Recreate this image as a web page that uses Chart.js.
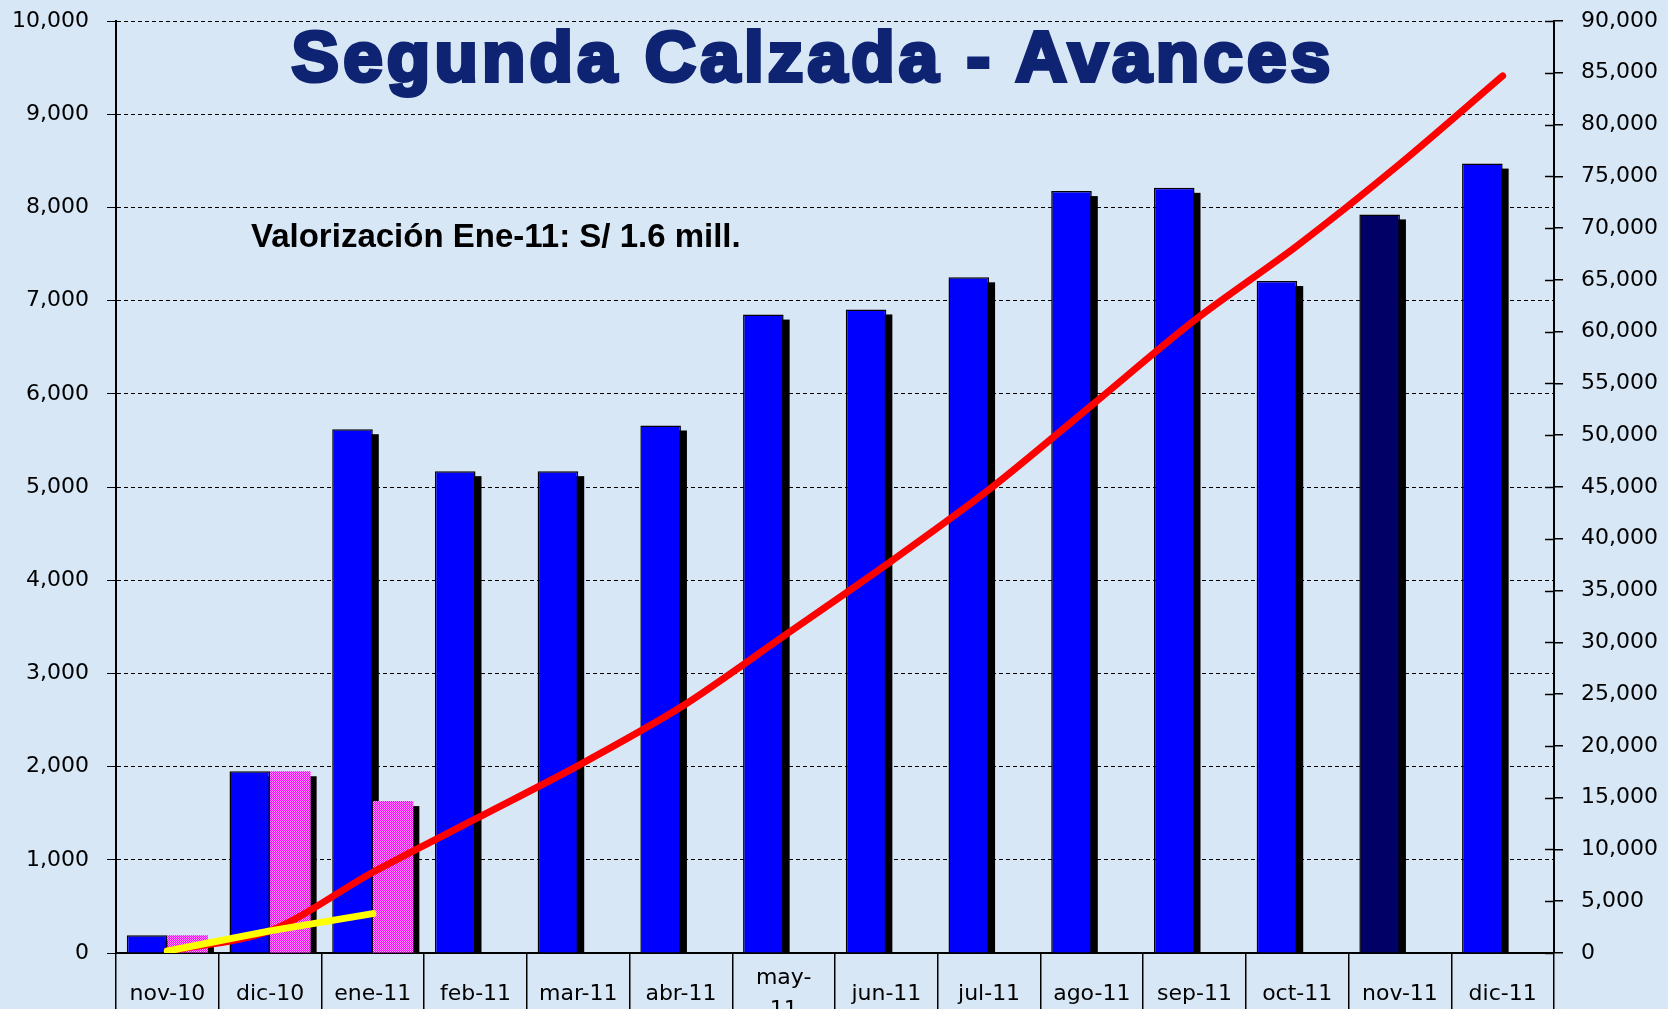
<!DOCTYPE html>
<html>
<head>
<meta charset="utf-8">
<script src="https://cdn.jsdelivr.net/npm/chart.js@4.4.0/dist/chart.umd.min.js"></script>
<style>
  html, body { margin: 0; padding: 0; background: #d8e7f6; overflow: hidden; }
  #wrap { position: relative; width: 1668px; height: 1026px; }
  #titulo {
    position: absolute; left: 0; width: 1626px; top: 21px; text-align: center;
    font-family: "Liberation Sans", Arial, sans-serif; font-weight: 700; font-size: 71px;
    color: #0e2473; -webkit-text-stroke: 4px #0e2473; letter-spacing: 4.2px; line-height: 1;
  }
  #nota {
    position: absolute; left: 251px; top: 219px;
    font-family: "Liberation Sans", Arial, sans-serif; font-weight: 700; font-size: 33px;
    color: #000; line-height: 1;
  }
</style>
</head>
<body>
<div id="wrap">
  <canvas id="chartAvances" width="1668" height="1026"></canvas>
  <div id="titulo">Segunda Calzada - Avances</div>
  <div id="nota">Valorización Ene-11: S/ 1.6 mill.</div>
</div>
<script>
(function () {
  // datos
  const meses = ['nov-10', 'dic-10', 'ene-11', 'feb-11', 'mar-11', 'abr-11', ['may-', '11'],
                 'jun-11', 'jul-11', 'ago-11', 'sep-11', 'oct-11', 'nov-11', 'dic-11'];
  const avanceMensual = [190, 1950, 5620, 5170, 5170, 5660, 6850, 6905, 7250, 8175, 8210, 7210, 7925, 8470];
  const valorizado    = [190, 1950, 1630, null, null, null, null, null, null, null, null, null, null, null];
  const acumulado     = [190, 2150, 7800, 12950, 18100, 23750, 30600, 37500, 44750, 52900, 61100, 68300, 76200, 84700];
  const acumValorizado = [190, 2140, 3800, null, null, null, null, null, null, null, null, null, null, null];

  const AZUL = '#0000ff';
  const AZUL_OSCURO = '#000066';
  const FONT = '"DejaVu Sans", Verdana, sans-serif';

  // relleno rosado punteado
  function patronRosa() {
    const c = document.createElement('canvas');
    c.width = 2; c.height = 2;
    const g = c.getContext('2d');
    g.fillStyle = '#ff99ff'; g.fillRect(0, 0, 2, 2);
    g.fillStyle = '#ff00ff'; g.fillRect(0, 0, 1, 1); g.fillRect(1, 1, 1, 1);
    return g.createPattern(c, 'repeat');
  }

  const coloresBarras = avanceMensual.map((v, i) => i === 12 ? AZUL_OSCURO : AZUL);

  // sombra negra detrás de cada barra (se dibuja antes de las barras)
  const sombraBarras = {
    id: 'sombraBarras',
    beforeDatasetsDraw(chart) {
      const ctx = chart.ctx;
      ctx.save();
      ctx.fillStyle = '#000';
      chart.getSortedVisibleDatasetMetas().forEach(meta => {
        if (meta.type !== 'bar') return;
        const datos = chart.data.datasets[meta.index].data;
        meta.data.forEach((el, i) => {
          if (datos[i] == null) return;
          const p = el.getProps(['x', 'y', 'base', 'width'], true);
          ctx.fillRect(p.x - p.width / 2 + 6, p.y + 5, p.width, p.base - p.y - 5);
        });
      });
      ctx.restore();
    }
  };

  // marcas del eje derecho que cruzan hacia adentro
  const marcasDerecha = {
    id: 'marcasDerecha',
    afterDraw(chart) {
      const s = chart.scales.y1;
      const ctx = chart.ctx;
      ctx.save();
      ctx.strokeStyle = '#000';
      ctx.lineWidth = 1.5;
      s.ticks.forEach(t => {
        const y = Math.round(s.getPixelForValue(t.value)) + 0.5;
        ctx.beginPath();
        ctx.moveTo(s.left - 9, y);
        ctx.lineTo(s.left, y);
        ctx.stroke();
      });
      ctx.restore();
    }
  };

  const fmt = v => Number(v).toLocaleString('en-US');
  const ajustarEjeY = (s) => { s.width = 104; s.paddingTop = 0; s.paddingBottom = 0; };

  new Chart(document.getElementById('chartAvances'), {
    data: {
      labels: meses,
      datasets: [
        {
          type: 'bar', label: 'Avance mensual', data: avanceMensual, yAxisID: 'y', order: 2,
          backgroundColor: coloresBarras, borderColor: '#000', borderWidth: 1.5,
          barPercentage: 1, categoryPercentage: 0.79
        },
        {
          type: 'bar', label: 'Valorizado', data: valorizado, yAxisID: 'y', order: 2,
          backgroundColor: patronRosa(), borderWidth: 0,
          barPercentage: 1, categoryPercentage: 0.79
        },
        {
          type: 'line', label: 'Acumulado', data: acumulado, yAxisID: 'y1', order: 1,
          borderColor: '#ff0000', borderWidth: 7, pointRadius: 0, tension: 0.3,
          borderCapStyle: 'round', borderJoinStyle: 'round'
        },
        {
          type: 'line', label: 'Acum. valorizado', data: acumValorizado, yAxisID: 'y1', order: 0,
          borderColor: '#ffff00', borderWidth: 7, pointRadius: 0, tension: 0,
          borderCapStyle: 'round', borderJoinStyle: 'round', spanGaps: false
        }
      ]
    },
    options: {
      responsive: false,
      animation: false,
      layout: { padding: { left: 12, right: 10, top: 21, bottom: 0 } },
      plugins: { legend: { display: false }, tooltip: { enabled: false } },
      scales: {
        x: {
          offset: true,
          afterFit: (s) => { s.height = 73; },
          grid: {
            offset: true, drawOnChartArea: false, drawTicks: true,
            tickLength: 60, color: '#000', lineWidth: 1.5
          },
          border: { display: true, color: '#000', width: 2 },
          ticks: {
            color: '#000', padding: -35, maxRotation: 0, autoSkip: false,
            crossAlign: 'center',
            font: { family: FONT, size: 22, lineHeight: 1.45 }
          }
        },
        y: {
          position: 'left', min: 0, max: 10000,
          afterFit: ajustarEjeY,
          grid: {
            color: '#000', lineWidth: 1,
            tickLength: 9, tickBorderDash: [], tickColor: '#000'
          },
          border: { display: true, color: '#000', width: 2, dash: [4, 3] },
          ticks: {
            stepSize: 1000, color: '#000', padding: 18, callback: fmt,
            font: { family: FONT, size: 22 }
          }
        },
        y1: {
          position: 'right', min: 0, max: 90000,
          afterFit: ajustarEjeY,
          grid: { drawOnChartArea: false, tickLength: 9, color: '#000', lineWidth: 1.5 },
          border: { display: true, color: '#000', width: 2 },
          ticks: {
            stepSize: 5000, color: '#000', padding: 18, callback: fmt,
            font: { family: FONT, size: 22 }
          }
        }
      }
    },
    plugins: [sombraBarras, marcasDerecha]
  });
})();
</script>
</body>
</html>
